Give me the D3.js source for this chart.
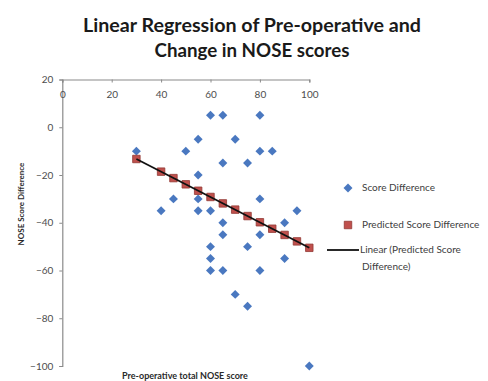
<!DOCTYPE html>
<html><head><meta charset="utf-8">
<script src="https://cdn.jsdelivr.net/npm/d3@7"></script>
<style>
html,body{margin:0;padding:0;background:#fff;}
svg{display:block;font-family:Lato,"Open Sans",sans-serif;}
</style></head>
<body>
<svg id="chart" width="488" height="381"></svg>
<script>
// Observed data: pre-operative NOSE score vs score difference
const scoreX = [30,60,65,80,55,70,50,80,85,65,75,55,45,55,80,40,55,60,95,65,90,65,80,60,75,60,90,60,65,80,70,75,100];
const scoreY = [-10,5,5,5,-5,-5,-10,-10,-10,-15,-15,-20,-30,-30,-30,-35,-35,-35,-35,-40,-40,-45,-45,-50,-50,-55,-55,-60,-60,-60,-70,-75,-100];
// Predicted score difference
const predX = [30,40,45,50,55,60,65,70,75,80,85,90,95,100];
const predY = [-13.3,-18.6,-21.3,-23.9,-26.6,-29.2,-31.9,-34.5,-37.2,-39.8,-42.5,-45.1,-47.8,-50.5];
// Axis ticks
const xTicks = [0,20,40,60,80,100];
const yTicks = [20,0,-20,-40,-60,-80,-100];
const titleLines = ["Linear Regression of Pre-operative and","Change in NOSE scores"];
const legendLabels = ["Score Difference","Predicted Score Difference","Linear (Predicted Score","Difference)"];

const svg = d3.select("#chart");
const x = d3.scaleLinear().domain([0,100]).range([62.3,309.3]);
const y = d3.scaleLinear().domain([-100,20]).range([366,79.5]);

const axisColor = "#8a8a8a", tickText = "#4d4d4d";

// Title
const titleW = [338, 195];
titleLines.forEach((t,i)=>{
  svg.append("text").attr("x",252).attr("y",31.5+i*25)
    .attr("text-anchor","middle").attr("font-size",18).attr("font-weight","bold")
    .attr("fill","#1a1a1a").attr("textLength",titleW[i]).attr("lengthAdjust","spacingAndGlyphs")
    .text(t);
});

// Y axis
const gy = svg.append("g").attr("transform",`translate(${x(0)},0)`)
  .call(d3.axisLeft(y).tickValues(yTicks).tickSize(3).tickPadding(6).tickFormat(d3.format("d")));
gy.select(".domain").attr("stroke",axisColor).attr("stroke-width",1.2);
gy.selectAll(".tick line").attr("stroke",axisColor);
gy.selectAll(".tick text").attr("font-size",10).attr("fill",tickText).attr("font-family","Lato");

// X axis (at y=20, top)
const gx = svg.append("g").attr("transform",`translate(0,${y(20)})`)
  .call(d3.axisBottom(x).tickValues(xTicks).tickSize(3).tickPadding(8));
gx.select(".domain").attr("stroke",axisColor).attr("stroke-width",1.2);
gx.selectAll(".tick line").attr("stroke",axisColor);
gx.selectAll(".tick text").attr("font-size",10).attr("fill",tickText).attr("font-family","Lato");

// Axis titles
svg.append("text").attr("transform",`translate(22,204) rotate(-90)`)
  .attr("text-anchor","middle").attr("dominant-baseline","middle")
  .attr("font-size",8).attr("font-weight","bold").attr("fill","#2a2a2a")
  .text("NOSE Score Difference");
svg.append("text").attr("x",185).attr("y",376.5)
  .attr("text-anchor","middle").attr("dominant-baseline","middle")
  .attr("font-size",9).attr("font-weight","bold").attr("fill","#2a2a2a")
  .text("Pre-operative total NOSE score");

// Diamonds
const diamond = d3.symbol().type(d3.symbolSquare).size(40);
const blue = "#4a78c0", red = "#c0504d", redStroke = "#923834";
svg.append("g").selectAll("path").data(scoreX.map((v,i)=>[v,scoreY[i]])).join("path")
  .attr("d",diamond).attr("fill",blue)
  .attr("transform",d=>`translate(${x(d[0])},${y(d[1])}) rotate(45)`);

// Predicted squares
const sq = d3.symbol().type(d3.symbolSquare).size(56);
svg.append("g").selectAll("path").data(predX.map((v,i)=>[v,predY[i]])).join("path")
  .attr("d",sq).attr("fill",red).attr("stroke",redStroke).attr("stroke-width",0.8)
  .attr("transform",d=>`translate(${x(d[0])},${y(d[1])})`);

// Linear trend line
svg.append("path").datum(predX.map((v,i)=>[v,predY[i]]).filter((d,i,a)=>i===0||i===a.length-1))
  .attr("d",d3.line().x(d=>x(d[0])).y(d=>y(d[1])))
  .attr("stroke","#111").attr("stroke-width",1.8).attr("fill","none");

// Legend
const lg = svg.append("g").attr("font-size",10).attr("fill","#404040");
lg.append("path").attr("d",diamond).attr("fill",blue).attr("transform","translate(348,188) rotate(45)");
lg.append("text").attr("x",362).attr("y",188).attr("dominant-baseline","middle").text(legendLabels[0]);
lg.append("path").attr("d",sq).attr("fill",red).attr("stroke",redStroke).attr("stroke-width",0.8).attr("transform","translate(348,225)");
lg.append("text").attr("x",362).attr("y",225).attr("dominant-baseline","middle").text(legendLabels[1]);
lg.append("line").attr("x1",327).attr("x2",359).attr("y1",250).attr("y2",250).attr("stroke","#111").attr("stroke-width",1.8);
lg.append("text").attr("x",360).attr("y",250).attr("dominant-baseline","middle").text(legendLabels[2]);
lg.append("text").attr("x",362).attr("y",267).attr("dominant-baseline","middle").text(legendLabels[3]);
</script>
</body></html>
